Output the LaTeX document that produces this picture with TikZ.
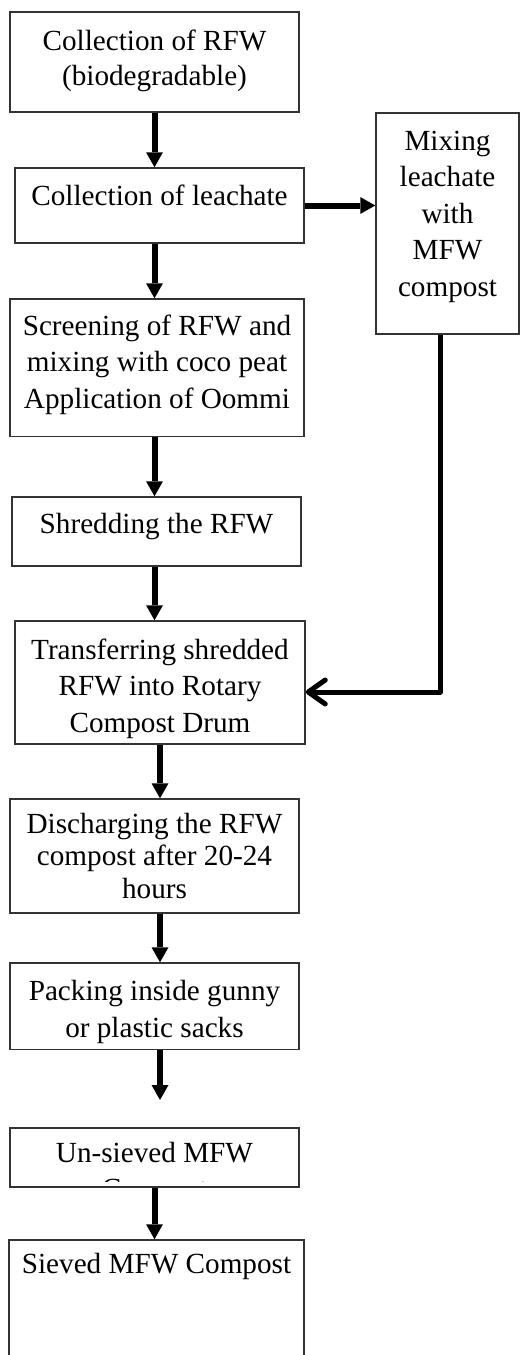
\documentclass[tikz,border=0pt]{standalone}
\usepackage{fontspec}
\setmainfont{Liberation Serif}
\usetikzlibrary{positioning,arrows.meta}
\newcommand{\boxfont}{\fontsize{29.2pt}{36.5pt}\selectfont}

\begin{document}
\begin{tikzpicture}[x=1pt,y=-1pt,
  stepbox/.style={draw=black!80,line width=1.5pt,inner xsep=4pt,inner ysep=0pt,
    align=center,anchor=base,font=\boxfont},
  flow/.style={line width=6pt,-{Triangle[length=15pt,width=17pt,line width=0pt]}},
  back/.style={line width=5pt,line join=round,-{Straight Barb[length=17pt,width=24pt,round]}}]
\useasboundingbox (0,0) rectangle (520,1355);
% process steps (placed at the baseline of their last line)
\node[stepbox,minimum width=289pt,text height=73pt,text depth=27pt] (collect) at (154.5,85) {Collection of RFW\\[-1.5pt](biodegradable)};
\node[stepbox,minimum width=289pt,text height=37pt,text depth=38pt] (leach) at (159.5,205) {Collection of leachate};
\node[stepbox,minimum width=143pt,text height=183pt,text depth=38pt] (mix) at (447.5,296) {Mixing\\leachate\\with\\MFW\\compost};
\node[stepbox,minimum width=294pt,text height=109pt,text depth=28.7pt] (screen) at (157,408) {Screening of RFW and\\mixing with coco peat\\Application of Oommi};
\node[stepbox,minimum width=289pt,text height=36pt,text depth=33pt] (shred) at (156.5,533) {Shredding the RFW};
\node[stepbox,minimum width=290pt,text height=111pt,text depth=12pt] (transfer) at (160,732) {Transferring shredded\\RFW into Rotary\\Compost Drum};
\node[stepbox,minimum width=289pt,text height=99pt,text depth=15pt] (discharge) at (154.5,898) {Discharging the RFW\\[-4pt]compost after 20-24\\[-4pt]hours};
\node[stepbox,minimum width=289pt,text height=74pt,text depth=12.5pt] (pack) at (154.5,1037) {Packing inside gunny\\[0.5pt]or plastic sacks};
\node[stepbox,minimum width=289pt,text height=34pt,text depth=25pt,
  path picture={\clip (path picture bounding box.north west) rectangle ([yshift=6pt]path picture bounding box.south east);
    \node[anchor=base,font=\boxfont] at ([yshift=-70.5pt]path picture bounding box.north) {Compost};}]
  (unsieved) at (154.5,1162) {Un-sieved MFW};
\node[stepbox,minimum width=295pt,text height=33pt,text depth=120pt] (sieved) at (156.5,1273) {Sieved MFW Compost};
% arrows
\draw[flow] (collect.south) -- (collect.south |- leach.north);
\draw[flow] (leach.south -| collect.south) -- (screen.north -| collect.south);
\draw[flow] (screen.south -| collect.south) -- (shred.north -| collect.south);
\draw[flow] (shred.south -| collect.south) -- (transfer.north -| collect.south);
\draw[flow] (transfer.south) -- (transfer.south |- discharge.north);
\draw[flow] (discharge.south -| transfer.south) -- (pack.north -| transfer.south);
\coordinate (packend) at (160,1100);
\draw[flow] (pack.south -| packend) -- (packend);
\draw[flow] (unsieved.south -| collect.south) -- (sieved.north -| collect.south);
\draw[flow] (leach.east) -- (leach.east -| mix.west);
% leachate compost back to the drum
\coordinate (bend) at (440,692);
\draw[back] (mix.south -| bend) -- (bend) -- (bend -| transfer.east);
\end{tikzpicture}
\end{document}
